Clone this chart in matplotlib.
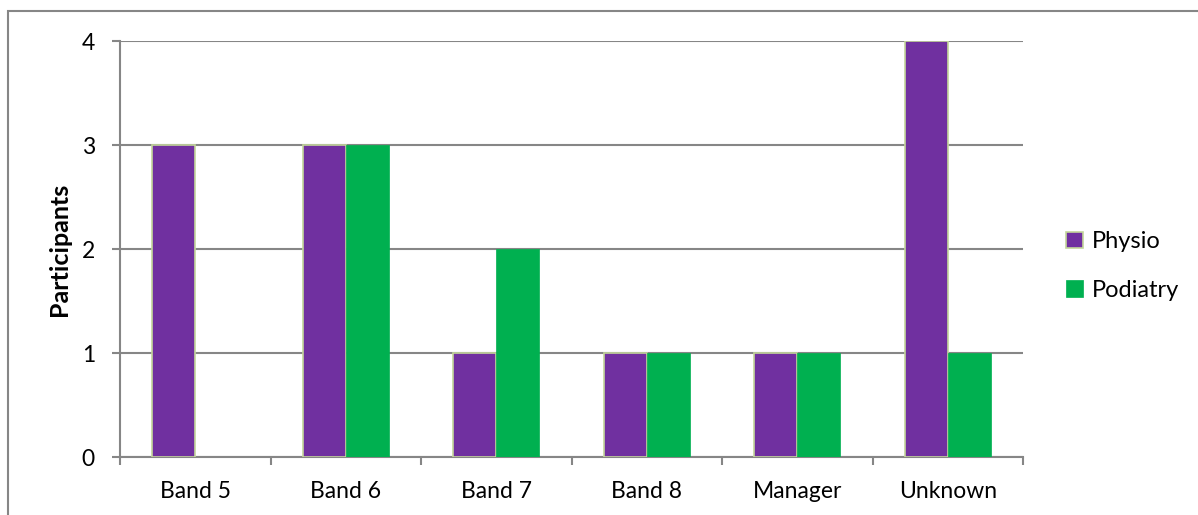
import matplotlib.pyplot as plt
import numpy as np
from matplotlib.patches import Rectangle

categories = ["Band 5", "Band 6", "Band 7", "Band 8", "Manager", "Unknown"]
physio = [3, 3, 1, 1, 1, 4]
podiatry = [0, 3, 2, 1, 1, 1]
series_names = ["Physio", "Podiatry"]

W, H = 1198, 515
GRID = "#868686"
PURPLE = "#7030A0"
GREEN = "#00B050"

plt.rcParams["font.family"] = ["Lato", "DejaVu Sans"]

fig = plt.figure(figsize=(W / 100, H / 100), dpi=100)
ax = fig.add_axes([120 / W, 1 - 457 / H, (1023 - 120) / W, (457 - 41) / H])

# outer chart frame (only top and left edges fall inside the canvas)
fig.add_artist(Rectangle((8 / W, -0.1), 1.2, 1 - 11 / H + 0.1,
                         transform=fig.transFigure, fill=False,
                         edgecolor=GRID, linewidth=1.5))

x = np.arange(len(categories))
bw = 1 / 3.5
ax.bar(x - bw / 2, physio, bw, color=PURPLE, edgecolor="#C3D69B",
       linewidth=1.2, label=series_names[0], zorder=3)
ax.bar(x + bw / 2, podiatry, bw, color=GREEN, edgecolor=GREEN,
       linewidth=0.5, label=series_names[1], zorder=3)

ax.set_xlim(-0.5, len(categories) - 0.5)
ax.set_ylim(0, 4)
ax.set_yticks(range(5))
ax.yaxis.grid(True, color=GRID, linewidth=1.5, zorder=0)

ax.set_xticks(x)
ax.set_xticklabels(categories)
ax.set_xticks(np.arange(-0.5, len(categories)), minor=True)
ax.tick_params(axis="x", which="major", length=0, pad=17, labelsize=16.5)
ax.tick_params(axis="x", which="minor", length=6, width=1.5, color=GRID)
ax.tick_params(axis="y", length=6, width=1.5, color=GRID, pad=12, labelsize=16.5)

for side in ("top", "right"):
    ax.spines[side].set_visible(False)
for side in ("left", "bottom"):
    ax.spines[side].set_color(GRID)
    ax.spines[side].set_linewidth(1.5)

ax.set_ylabel("Participants", fontsize=18, fontweight="bold", labelpad=8)

ax.legend(loc="center left", bbox_to_anchor=(1045 / W, 1 - 266 / H),
          bbox_transform=fig.transFigure, frameon=False, fontsize=17,
          handlelength=0.7, handleheight=0.7, handletextpad=0.4,
          labelspacing=1.15)

fig.savefig("out.png", dpi=100)
